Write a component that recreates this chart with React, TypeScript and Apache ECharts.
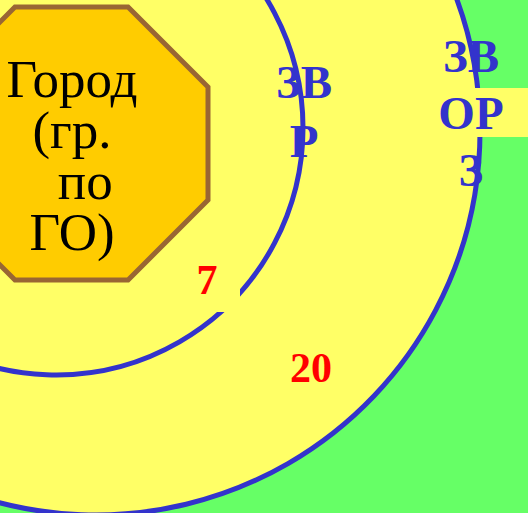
import React, { useEffect, useRef } from "react";
import * as echarts from "echarts";

// Labels of the diagram
const cityLines = ["Город", "(гр.", "\u00A0\u00A0по", "ГО)"];
const innerZoneLines = ["ЗВ", "Р"];
const outerZoneLines = ["ЗВ", "ОР", "З"];
const distances = ["7", "20"];

const W = 528;
const H = 513;

function octagon(cx: number, cy: number, apothem: number): number[][] {
  const R = apothem / Math.cos(Math.PI / 8);
  const pts: number[][] = [];
  for (let i = 0; i < 8; i++) {
    const a = Math.PI / 8 + (i * Math.PI) / 4;
    pts.push([cx + R * Math.cos(a), cy + R * Math.sin(a)]);
  }
  return pts;
}

export default function App() {
  const ref = useRef<HTMLDivElement>(null);
  useEffect(() => {
    if (!ref.current) return;
    const chart = echarts.init(ref.current, null, { renderer: "svg" });
    const serif = "Liberation Serif, Times New Roman, serif";
    const blue = "#3333CC";
    const yellow = "#FFFF66";
    const elements: any[] = [
      { type: "rect", shape: { x: 0, y: 0, width: W, height: H }, style: { fill: "#66FF66" } },
      { type: "circle", shape: { cx: 96, cy: 131, r: 384 }, style: { fill: yellow, stroke: blue, lineWidth: 5 } },
      { type: "circle", shape: { cx: 56, cy: 128, r: 247 }, style: { fill: yellow, stroke: blue, lineWidth: 5 } },
      { type: "rect", shape: { x: 186, y: 256, width: 54, height: 56 }, style: { fill: yellow } },
      { type: "rect", shape: { x: 437, y: 88, width: 91, height: 49 }, style: { fill: yellow } },
      {
        type: "polygon",
        shape: { points: octagon(71.5, 143.5, 136.5) },
        style: { fill: "#FFCC00", stroke: "#996633", lineWidth: 5 },
      },
      {
        type: "text",
        x: 72,
        y: 155.5,
        style: {
          text: cityLines.join("\n"),
          font: `53px ${serif}`,
          lineHeight: 51,
          fill: "#000",
          align: "center",
          verticalAlign: "middle",
        },
      },
      {
        type: "text",
        x: 304,
        y: 111.5,
        style: {
          text: innerZoneLines.join("\n"),
          font: `bold 47px ${serif}`,
          lineHeight: 59,
          fill: blue,
          align: "center",
          verticalAlign: "middle",
        },
      },
      {
        type: "text",
        x: 471,
        y: 113,
        style: {
          text: outerZoneLines.join("\n"),
          font: `bold 47px ${serif}`,
          lineHeight: 57,
          fill: blue,
          align: "center",
          verticalAlign: "middle",
        },
      },
    ];
    const distPos = [
      [207, 280],
      [311, 368],
    ];
    distances.forEach((t, i) => {
      elements.push({
        type: "text",
        x: distPos[i][0],
        y: distPos[i][1],
        style: { text: t, font: `bold 42px ${serif}`, fill: "#FF0000", align: "center", verticalAlign: "middle" },
      });
    });
    chart.setOption({ animation: false, graphic: { elements } });
    return () => chart.dispose();
  }, []);
  return <div ref={ref} style={{ position: "absolute", left: 0, top: 0, width: W, height: H }} />;
}
